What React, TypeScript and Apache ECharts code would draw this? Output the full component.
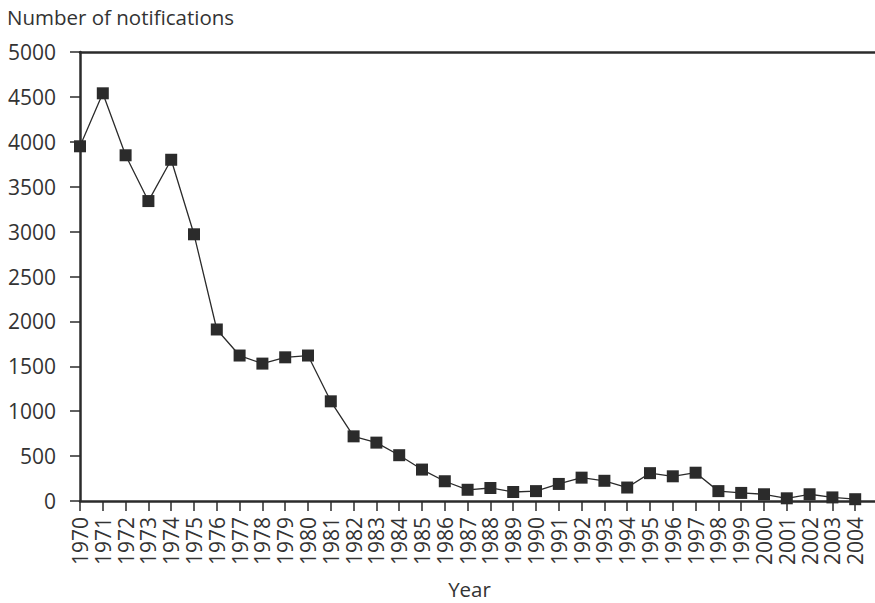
import React, { useEffect, useRef } from "react";
import * as echarts from "echarts";

const years: number[] = [
  1970, 1971, 1972, 1973, 1974, 1975, 1976, 1977, 1978, 1979, 1980, 1981,
  1982, 1983, 1984, 1985, 1986, 1987, 1988, 1989, 1990, 1991, 1992, 1993,
  1994, 1995, 1996, 1997, 1998, 1999, 2000, 2001, 2002, 2003, 2004,
];
const notifications: number[] = [
  3950, 4540, 3850, 3340, 3800, 2970, 1910, 1620, 1530, 1600, 1620, 1110,
  720, 650, 510, 350, 220, 125, 145, 100, 110, 190, 260, 225,
  150, 310, 275, 315, 110, 90, 75, 30, 75, 40, 20,
];
const yTicks = { min: 0, max: 5000, interval: 500 };
const yTitle = "Number of notifications";
const xTitle = "Year";

const FONT = "'Open Sans', 'Noto Sans', sans-serif";
const INK = "#2b2b2b";
const TEXT = "#333";

export default function App() {
  const ref = useRef<HTMLDivElement>(null);
  useEffect(() => {
    if (!ref.current) return;
    const chart = echarts.init(ref.current, undefined, { renderer: "svg" });
    const data = years.map((y, i) => [y, notifications[i]]);
    const firstYear = years[0];
    const lastYear = years[years.length - 1];
    chart.setOption({
      animation: false,
      textStyle: { fontFamily: FONT },
      grid: { left: 80, right: 0, top: 52, bottom: 102, containLabel: false },
      graphic: [
        {
          type: "text",
          x: 7,
          y: 16.5,
          style: {
            text: yTitle,
            font: `20.5px ${FONT}`,
            fill: TEXT,
            textAlign: "left",
            textVerticalAlign: "middle",
          },
        },
        {
          type: "text",
          x: 469.5,
          y: 589,
          style: {
            text: xTitle,
            font: `20.5px ${FONT}`,
            fill: TEXT,
            textAlign: "center",
            textVerticalAlign: "middle",
          },
        },
      ],
      xAxis: [
        {
          type: "value",
          min: firstYear,
          max: lastYear + 1,
          interval: 1,
          axisLine: { show: true, onZero: false, lineStyle: { color: INK, width: 2.5 } },
          axisTick: { show: true, length: 10, lineStyle: { color: INK, width: 1.5 } },
          splitLine: { show: false },
          axisLabel: {
            rotate: 90,
            margin: 16,
            fontSize: 21,
            color: TEXT,
            fontFamily: FONT,
            formatter: (v: number) => (v > lastYear ? "" : String(v)),
          },
        },
        {
          type: "value",
          position: "top",
          min: firstYear,
          max: lastYear + 1,
          axisLine: { show: true, onZero: false, lineStyle: { color: INK, width: 2.5 } },
          axisTick: { show: false },
          axisLabel: { show: false },
          splitLine: { show: false },
        },
      ],
      yAxis: {
        type: "value",
        min: yTicks.min,
        max: yTicks.max,
        interval: yTicks.interval,
        axisLine: { show: true, lineStyle: { color: INK, width: 2.5 } },
        axisTick: { show: true, length: 10, lineStyle: { color: INK, width: 1.5 } },
        splitLine: { show: false },
        axisLabel: {
          margin: 24,
          fontSize: 21,
          color: TEXT,
          fontFamily: FONT,
          formatter: (v: number) => String(v),
        },
      },
      series: [
        {
          type: "line",
          data,
          symbol: "rect",
          symbolSize: 12,
          itemStyle: { color: INK },
          lineStyle: { color: INK, width: 1.3 },
        },
      ],
    });
    return () => chart.dispose();
  }, []);
  return (
    <div
      ref={ref}
      style={{ position: "fixed", left: 0, top: 0, width: 878, height: 603, background: "#fff" }}
    />
  );
}
